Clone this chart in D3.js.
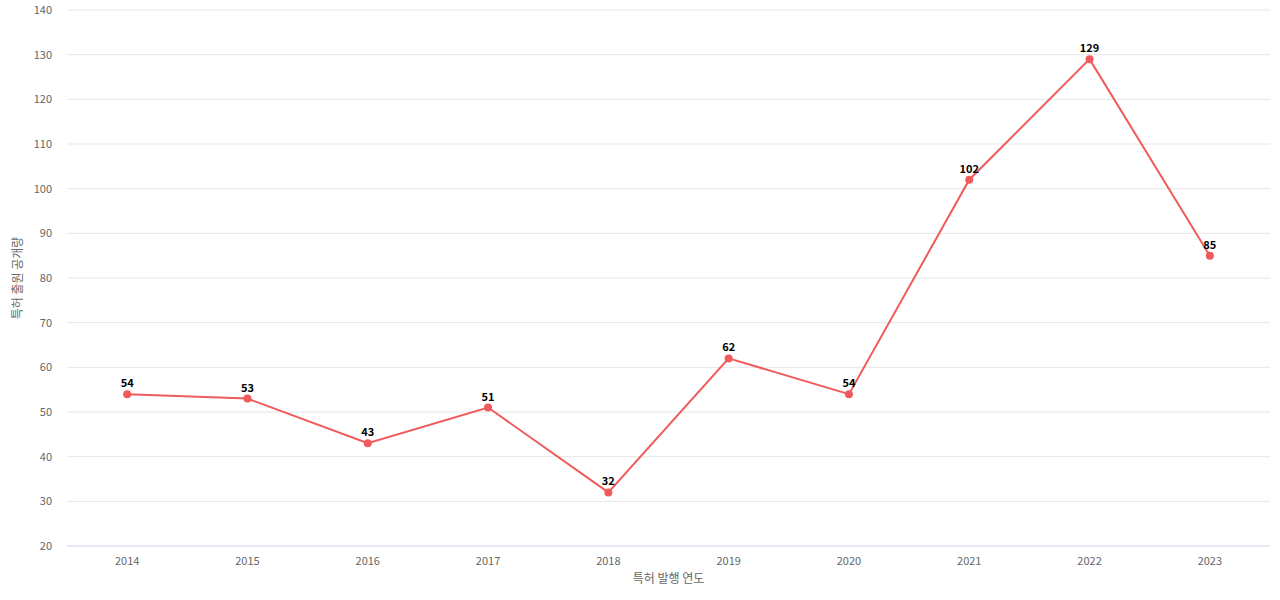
<!DOCTYPE html>
<html><head><meta charset="utf-8">
<script src="https://cdn.jsdelivr.net/npm/d3@7"></script>
<style>body{margin:0;background:#fff;font-family:"Noto Sans CJK KR","Liberation Sans",Arial,sans-serif}</style>
</head><body><div id="chart"></div>
<script>
var years = ["2014","2015","2016","2017","2018","2019","2020","2021","2022","2023"];
var counts = [54, 53, 43, 51, 32, 62, 54, 102, 129, 85];
var yTicks = [20,30,40,50,60,70,80,90,100,110,120,130,140];

var margin = { top: 10, right: 10, bottom: 54, left: 67 },
    width = 1280 - margin.left - margin.right,
    height = 600 - margin.top - margin.bottom;

var svg = d3.select("#chart").append("svg")
    .attr("width", 1280).attr("height", 600)
    .append("g")
    .attr("transform", "translate(" + margin.left + "," + margin.top + ")");

var x = d3.scalePoint().domain(years).range([0, width]).padding(0.5);
var y = d3.scaleLinear().domain([20, 140]).range([height, 0]);

// grid
svg.selectAll(".grid").data(yTicks).enter().append("line")
    .attr("x1", 0).attr("x2", width)
    .attr("y1", function(d) { return y(d); }).attr("y2", function(d) { return y(d); })
    .attr("stroke", function(d) { return d === 20 ? "#ccd6eb" : "#e6e6e6"; });

svg.selectAll(".ylab").data(yTicks).enter().append("text")
    .attr("x", -15).attr("y", function(d) { return y(d) + 4; })
    .attr("text-anchor", "end").attr("font-size", 11).attr("fill", "#666")
    .text(function(d) { return d; });

svg.selectAll(".xlab").data(years).enter().append("text")
    .attr("x", function(d) { return x(d); }).attr("y", height + 19)
    .attr("text-anchor", "middle").attr("font-size", 11).attr("fill", "#666")
    .text(function(d) { return d; });

svg.append("text").attr("x", width / 2).attr("y", height + 37)
    .attr("text-anchor", "middle").attr("font-size", 12).attr("fill", "#666")
    .text("특허 발행 연도");

svg.append("text")
    .attr("transform", "translate(" + (-45) + "," + (height / 2) + ") rotate(-90)")
    .attr("text-anchor", "middle").attr("font-size", 12).attr("fill", "#666")
    .text("특허 출원 공개량");

var line = d3.line()
    .x(function(d, i) { return x(years[i]); })
    .y(function(d) { return y(d); });

svg.append("path").datum(counts)
    .attr("d", line).attr("fill", "none")
    .attr("stroke", "#f05a5a").attr("stroke-width", 2);

svg.selectAll(".pt").data(counts).enter().append("circle")
    .attr("cx", function(d, i) { return x(years[i]); })
    .attr("cy", function(d) { return y(d); })
    .attr("r", 4).attr("fill", "#f05a5a");

svg.selectAll(".val").data(counts).enter().append("text")
    .attr("x", function(d, i) { return x(years[i]); })
    .attr("y", function(d) { return y(d) - 7; })
    .attr("text-anchor", "middle").attr("font-size", 11).attr("font-weight", "bold")
    .attr("fill", "#000")
    .text(function(d) { return d; });
</script></body></html>
